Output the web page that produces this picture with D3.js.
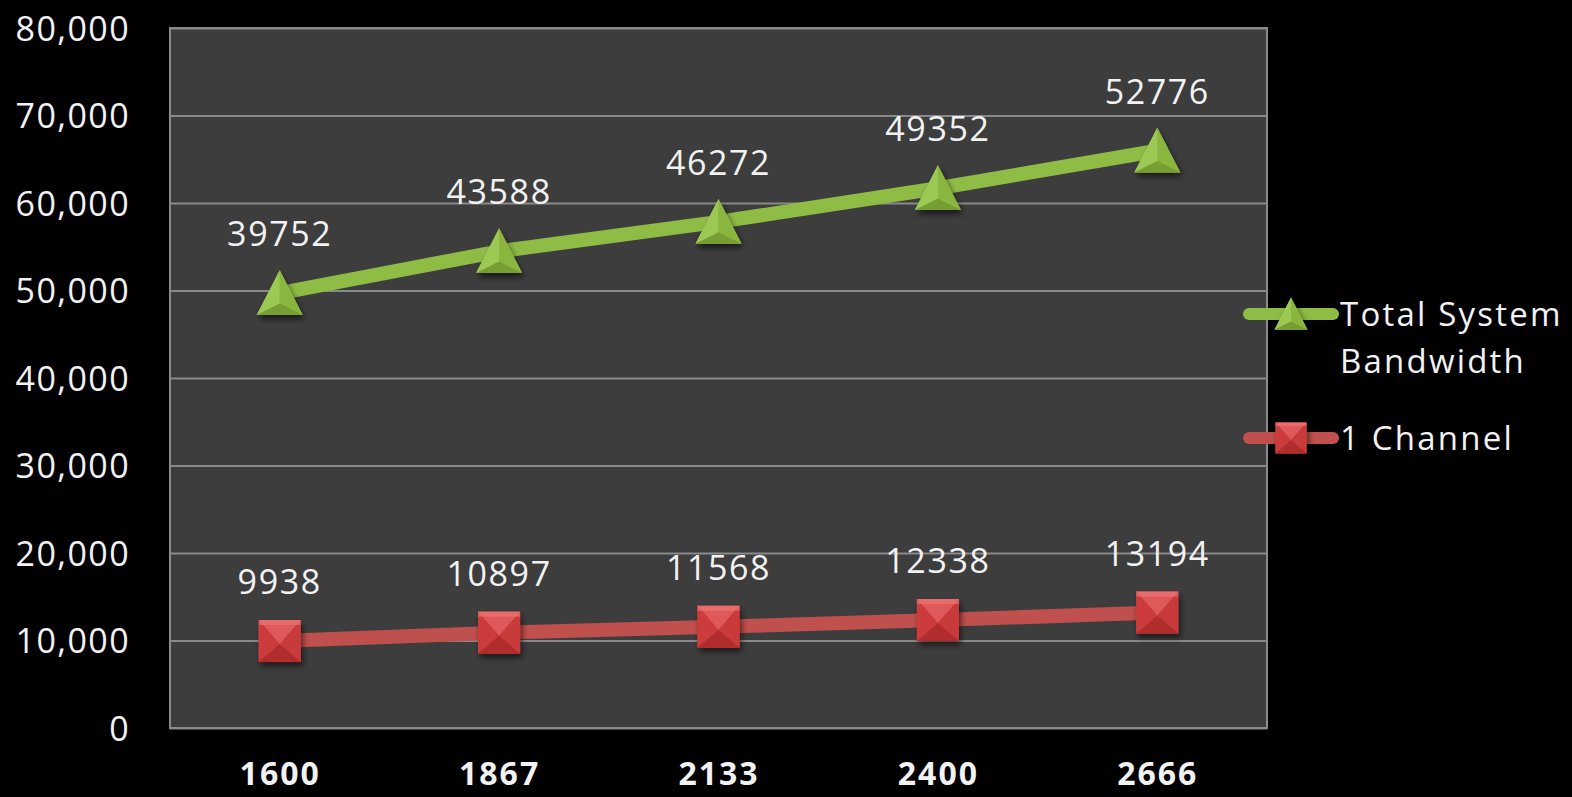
<!DOCTYPE html>
<html>
<head>
<meta charset="utf-8">
<script src="https://cdn.jsdelivr.net/npm/d3@7"></script>
<style>
  html, body { margin: 0; padding: 0; background: #000; }
  svg { display: block; }
  text { font-family: "Open Sans", "Noto Sans", sans-serif; fill: #f2f2f2; }
</style>
</head>
<body>
<svg id="chart" width="1572" height="797"></svg>
<script>
// Memory speed (MT/s) on the x axis
const categories = ["1600", "1867", "2133", "2400", "2666"];
// Bandwidth of a single channel
const channelValues = [9938, 10897, 11568, 12338, 13194];
// Total system bandwidth, stacked on top of the single channel
const totalValues = [39752, 43588, 46272, 49352, 52776];
const yTicks = [0, 10000, 20000, 30000, 40000, 50000, 60000, 70000, 80000];
const seriesNames = ["1 Channel", "Total System Bandwidth"];

const rows = categories.map((c, i) => ({
  cat: c, channel: channelValues[i], total: totalValues[i]
}));
const stacked = d3.stack().keys(["channel", "total"])(rows);

const svg = d3.select("#chart");
const plot = { left: 170, right: 1267, top: 28, bottom: 728 };

const x = d3.scalePoint().domain(categories)
  .range([plot.left, plot.right]).padding(0.5);
const y = d3.scaleLinear().domain([0, 80000])
  .range([plot.bottom, plot.top]);

// Defs: marker drop shadow
const defs = svg.append("defs");
const f = defs.append("filter").attr("id", "shadow")
  .attr("x", "-40%").attr("y", "-40%").attr("width", "180%").attr("height", "180%");
f.append("feDropShadow").attr("dx", 2).attr("dy", 4).attr("stdDeviation", 3)
  .attr("flood-color", "#000").attr("flood-opacity", 0.6);

// Plot background
svg.append("rect")
  .attr("x", plot.left).attr("y", plot.top)
  .attr("width", plot.right - plot.left).attr("height", plot.bottom - plot.top)
  .attr("fill", "#3d3d3d");

// Gridlines
svg.append("g")
  .attr("transform", `translate(${plot.left},0)`)
  .call(d3.axisLeft(y).tickValues(yTicks).tickSize(-(plot.right - plot.left)).tickFormat(""))
  .call(g => g.select(".domain").remove())
  .call(g => g.selectAll("line").attr("stroke", "#8a8a8a").attr("stroke-width", 2));

// Plot border
svg.append("rect")
  .attr("x", plot.left).attr("y", plot.top)
  .attr("width", plot.right - plot.left).attr("height", plot.bottom - plot.top)
  .attr("fill", "none").attr("stroke", "#8a8a8a").attr("stroke-width", 2);

// Y axis labels
svg.append("g")
  .attr("transform", `translate(${plot.left},0)`)
  .call(d3.axisLeft(y).tickValues(yTicks).tickSize(0).tickPadding(40).tickFormat(d3.format(",")))
  .call(g => g.select(".domain").remove())
  .call(g => g.selectAll("text")
    .attr("font-size", 34).attr("letter-spacing", "1.4px")
    .attr("fill", "#f2f2f2").attr("font-family", "\"Open Sans\", sans-serif")
    .attr("dy", "0.36em"));

// X axis labels
svg.append("g")
  .attr("transform", `translate(0,${plot.bottom})`)
  .call(d3.axisBottom(x).tickSize(0).tickPadding(0))
  .call(g => g.select(".domain").remove())
  .call(g => g.selectAll("text")
    .attr("y", 57).attr("dy", 0)
    .attr("font-size", 32).attr("font-weight", "bold").attr("letter-spacing", "2px")
    .attr("fill", "#f2f2f2").attr("font-family", "\"Open Sans\", sans-serif"));

const colors = { channel: "#c0504d", total: "#8fbc45" };

// Marker drawers: bevelled square and bevelled triangle
function squareMarker(g, s) {
  const h = s / 2, c = h * 0.15;
  g.append("rect").attr("x", -h).attr("y", -h).attr("width", s).attr("height", s)
    .attr("fill", "#c8393a").attr("filter", "url(#shadow)");
  g.append("path").attr("d", `M${-h},${-h}L${h},${-h}L0,${c}Z`).attr("fill", "#e0595a");
  g.append("path").attr("d", `M${-h},${-h}L${-h},${h}L0,${c}Z`).attr("fill", "#cc3c3d");
  g.append("path").attr("d", `M${h},${-h}L${h},${h}L0,${c}Z`).attr("fill", "#c93a3b");
  g.append("path").attr("d", `M${-h},${h}L${h},${h}L0,${c}Z`).attr("fill", "#b02c2d");
  g.append("rect").attr("x", -h).attr("y", -h).attr("width", s).attr("height", s * 0.12)
    .attr("fill", "#ee7a7a").attr("opacity", 0.6);
}
function triangleMarker(g, s) {
  const h = s / 2, top = -h, base = h * 0.95;
  const cx = 0, cy = h * 0.45;
  g.append("path").attr("d", `M0,${top}L${h},${base}L${-h},${base}Z`)
    .attr("fill", "#8fbc45").attr("filter", "url(#shadow)");
  g.append("path").attr("d", `M0,${top}L${-h},${base}L${cx},${cy}Z`).attr("fill", "#9cc953");
  g.append("path").attr("d", `M0,${top}L${h},${base}L${cx},${cy}Z`).attr("fill", "#8ab53f");
  g.append("path").attr("d", `M${-h},${base}L${h},${base}L${cx},${cy}Z`).attr("fill", "#779e33");
}

const line = d3.line().x(d => x(d.data.cat)).y(d => y(d[1]));

stacked.forEach(series => {
  const key = series.key;
  svg.append("path").datum(series)
    .attr("d", line)
    .attr("fill", "none")
    .attr("stroke", colors[key])
    .attr("stroke-width", 14)
    .attr("stroke-linejoin", "round")
    .attr("stroke-linecap", "round");
});

stacked.forEach(series => {
  const key = series.key;
  const mk = svg.append("g").selectAll("g").data(series).join("g")
    .attr("transform", d => `translate(${x(d.data.cat)},${y(d[1])})`);
  mk.each(function () {
    if (key === "channel") squareMarker(d3.select(this), 42);
    else triangleMarker(d3.select(this), 46);
  });
  // Value labels show each series' own value
  svg.append("g").selectAll("text").data(series).join("text")
    .attr("x", d => x(d.data.cat))
    .attr("y", d => y(d[1]) - 47)
    .attr("text-anchor", "middle")
    .attr("font-size", 34).attr("letter-spacing", "1.6px")
    .text(d => d.data[key]);
});

// Legend
const legend = [
  { key: "total", lines: ["Total System", "Bandwidth"], y: 314 },
  { key: "channel", lines: ["1 Channel"], y: 438 }
];
legend.forEach(item => {
  const g = svg.append("g");
  g.append("line").attr("x1", 1249).attr("x2", 1333)
    .attr("y1", item.y).attr("y2", item.y)
    .attr("stroke", colors[item.key]).attr("stroke-width", 12)
    .attr("stroke-linecap", "round");
  const m = g.append("g").attr("transform", `translate(1291,${item.y})`);
  if (item.key === "channel") squareMarker(m, 31);
  else triangleMarker(m, 33);
  item.lines.forEach((t, i) => {
    g.append("text").attr("x", 1340).attr("y", item.y + 12 + i * 47)
      .attr("font-size", 33).attr("letter-spacing", "2.2px").text(t);
  });
});
</script>
</body>
</html>
